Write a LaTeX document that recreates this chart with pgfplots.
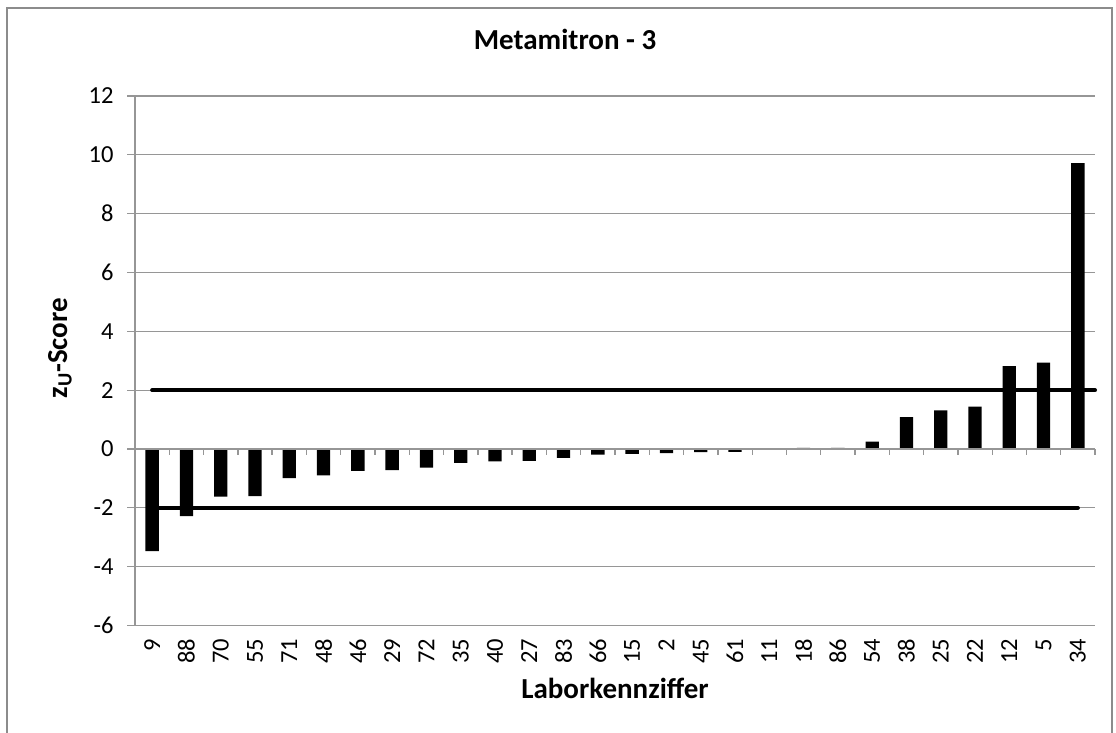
\documentclass[border=0pt]{standalone}
\usepackage{pgfplots}
\pgfplotsset{compat=1.18}
\usepackage{fontspec}
\setmainfont{Carlito}
\definecolor{gridgray}{RGB}{150,150,150}
\definecolor{framegray}{RGB}{140,140,140}
\begin{document}
\begin{tikzpicture}
\useasboundingbox (0,0) rectangle (1116pt,733pt);
\draw[framegray, line width=1.2pt] (7pt,-20pt) rectangle (1112pt,725pt);
\begin{axis}[
  at={(135pt,107.5pt)}, anchor=south west,
  width=960pt, height=529.5pt, scale only axis,
  xmin=-0.5, xmax=27.5, ymin=-6, ymax=12,
  ytick={-6,-4,...,12},
  xtick={0,...,27},
  xticklabels={9,88,70,55,71,48,46,29,72,35,40,27,83,66,15,2,45,61,11,18,86,54,38,25,22,12,5,34},
  axis lines*=left,
  y axis line style={gridgray, line width=1.3pt},
  x axis line style={draw=none},
  xtick style={draw=none},
  ymajorgrids,
  grid style={gridgray, line width=1.3pt},
  ytick style={gridgray, line width=1.3pt},
  ytick align=outside,
  major tick length=8pt,
  tick label style={font=\fontsize{24.5}{28}\selectfont},
  /pgf/number format/assume math mode=true,
  yticklabel style={anchor=east, xshift=-10pt},
  xticklabel style={rotate=90, anchor=east, yshift=0pt, xshift=-10pt},
  title={\textbf{Metamitron - 3}},
  title style={at={(axis description cs:0.448,1)}, anchor=base, yshift=40pt, font=\fontsize{29}{32}\selectfont},
  xlabel={\textbf{Laborkennziffer}},
  xlabel style={at={(axis description cs:0.5,0)}, anchor=base, yshift=-73.5pt, font=\fontsize{29}{32}\selectfont},
  ylabel={\textbf{z\textsubscript{U}-Score}},
  ylabel style={at={(axis description cs:0,0.524)}, anchor=center, rotate=0, yshift=75pt, font=\fontsize{29}{32}\selectfont},
  clip=false,
]
\addplot[ybar, bar width=13.3pt, fill=black, draw=none] coordinates {
(0,-3.47) (1,-2.28) (2,-1.62) (3,-1.60) (4,-0.99) (5,-0.90) (6,-0.74) (7,-0.72)
(8,-0.63) (9,-0.47) (10,-0.42) (11,-0.40) (12,-0.30) (13,-0.19) (14,-0.17) (15,-0.14)
(16,-0.11) (17,-0.10) (18,0.00) (19,0.04) (20,0.04) (21,0.25) (22,1.08) (23,1.31)
(24,1.44) (25,2.82) (26,2.94) (27,9.72)
};
\addplot[black, line width=4pt, line cap=round] coordinates {(0,2) (27.5,2)};
\addplot[black, line width=4pt, line cap=round] coordinates {(0,-2) (27,-2)};
\end{axis}
\begin{axis}[
  at={(135pt,107.5pt)}, anchor=south west,
  width=960pt, height=529.5pt, scale only axis,
  xmin=-0.5, xmax=27.5, ymin=-6, ymax=12,
  axis x line=middle, axis y line=none,
  xtick={-0.5,0.5,...,27.5}, xticklabels={},
  axis line style={gridgray, line width=1.3pt, -},
  xtick style={gridgray, line width=1.3pt},
  xtick align=outside,
  major tick length=6pt,
]
\end{axis}
\end{tikzpicture}
\end{document}
